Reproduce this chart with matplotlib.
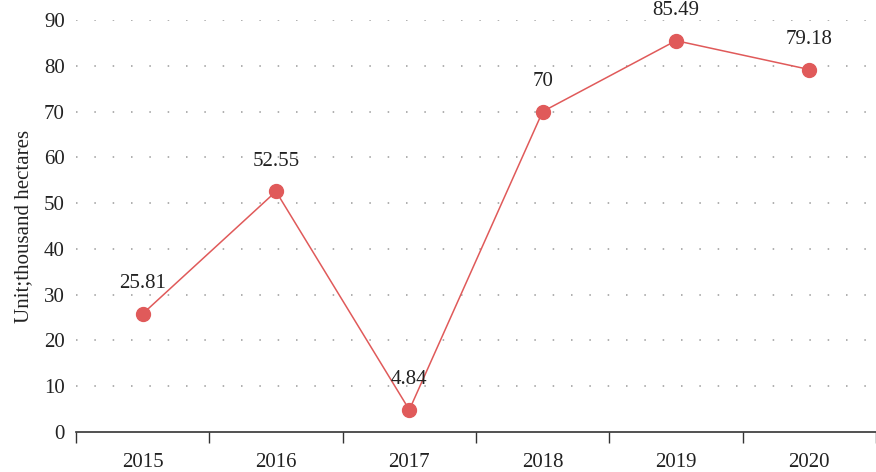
import numpy as np
import matplotlib
matplotlib.use("Agg")
from matplotlib import pyplot as plt

years = ["2015", "2016", "2017", "2018", "2019", "2020"]
areas = [25.81, 52.55, 4.84, 70, 85.49, 79.18]
value_labels = ["25.81", "52.55", "4.84", "70", "85.49", "79.18"]

plt.rcParams['font.family'] = ['Liberation Serif', 'DejaVu Serif']
plt.rcParams['font.size'] = 15

fig = plt.figure(figsize=(8.76, 4.72), dpi=100)
ax = fig.add_axes([76 / 876, 40 / 472, 800 / 876, 412 / 472])

x = np.arange(len(years))
ax.plot(x, areas, color='#e05a5a', linewidth=1.1, marker='o',
        markersize=10, markerfacecolor='#e05a5a', markeredgecolor='#e05a5a',
        zorder=3)

for xi, yi, lab in zip(x, areas, value_labels):
    ax.annotate(lab, (xi, yi), xytext=(0, 21.6), textcoords='offset points',
                ha='center', va='center', color='#222222', fontsize=15)

# band width in the reference is ~134.5 px over an 800 px wide axis
ax.set_xlim(-0.5, -0.5 + 800 / 134.5)
ax.set_ylim(0, 90)
ax.set_yticks(np.arange(0, 91, 10))
ax.set_xticks(x)
ax.set_xticklabels(years)
ax.set_xticks(np.arange(-0.5, len(years), 1), minor=True)

ax.tick_params(axis='x', which='major', length=0, pad=15, colors='#222222')
ax.tick_params(axis='x', which='minor', length=8, width=1.0, direction='out',
               color='#333333')
ax.tick_params(axis='y', length=0, pad=8, colors='#222222')

for y in range(10, 91, 10):
    ax.axhline(y, color='#9a9a9a', linewidth=1.1, linestyle=(0, (1, 11)),
               zorder=1)

for side in ['top', 'right', 'left']:
    ax.spines[side].set_visible(False)
ax.spines['bottom'].set_color('#333333')
ax.spines['bottom'].set_linewidth(1.2)

ax.set_ylabel("Unit;thousand hectares", color='#222222', fontsize=15,
              labelpad=8)

fig.savefig("out.png", dpi=100)
